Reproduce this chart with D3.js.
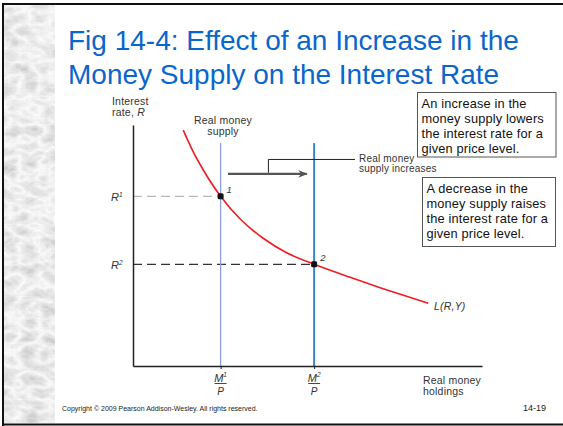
<!DOCTYPE html>
<html>
<head>
<meta charset="utf-8">
<script src="https://cdn.jsdelivr.net/npm/d3@7"></script>
<style>
  body { margin: 0; background: #fff; }
  svg { display: block; font-family: "Liberation Sans", Arial, sans-serif; }
</style>
</head>
<body>
<svg id="slide" width="563" height="426"></svg>
<script>
// demand curve L(R,Y): real money holdings vs interest rate
var demandM = [1.44, 1.83, 2.51, 3.07, 3.73, 4.40, 5.19, 6.22, 7.08, 8.46];
var demandR = [9.79, 8.60, 7.04, 6.10, 5.30, 4.70, 4.22, 3.68, 3.25, 2.60];

// real money supply levels and equilibrium rates
var supplyLevels = [2.51, 5.19];
var supplyTop = 9.25;
var rateLevels = [7.04, 4.22];
var pointLabels = ["1", "2"];
var rateLabels = ["1", "2"];

var titleLines = ["Fig 14-4: Effect of an Increase in the", "Money Supply on the Interest Rate"];
var box1Lines = ["An increase in the", "money supply lowers", "the interest rate for a", "given price level."];
var box2Lines = ["A decrease in the", "money supply raises", "the interest rate for a", "given price level."];

var svg = d3.select("#slide");

// marble strip on the left
var defs = svg.append("defs");
var f = defs.append("filter").attr("id", "marble")
  .attr("x", 0).attr("y", 0).attr("width", 1).attr("height", 1);
f.append("feTurbulence").attr("type", "turbulence")
  .attr("baseFrequency", "0.05 0.08").attr("numOctaves", 4).attr("seed", 7);
f.append("feColorMatrix").attr("type", "matrix")
  .attr("values", "-0.5 0 0 0 0.99  -0.5 0 0 0 0.99  -0.5 0 0 0 0.99  0 0 0 0 1");
svg.append("rect").attr("x", 4).attr("y", 5).attr("width", 51).attr("height", 418)
  .attr("fill", "#ddd").attr("filter", "url(#marble)");

// frame
svg.append("line").attr("x1", 2).attr("x2", 563).attr("y1", 4).attr("y2", 4)
  .attr("stroke", "#111").attr("stroke-width", 2);
svg.append("line").attr("x1", 3).attr("x2", 3).attr("y1", 3).attr("y2", 426)
  .attr("stroke", "#111").attr("stroke-width", 2);
svg.append("line").attr("x1", 2).attr("x2", 563).attr("y1", 424.5).attr("y2", 424.5)
  .attr("stroke", "#111").attr("stroke-width", 2);

// title
svg.append("g").selectAll("text").data(titleLines).enter().append("text")
  .attr("x", 68).attr("y", function(d, i) { return 50 + i * 33.5; })
  .attr("font-size", 28).attr("fill", "#0a66cc")
  .text(function(d) { return d; });

var x = d3.scaleLinear().domain([0, 10]).range([133, 482]);
var y = d3.scaleLinear().domain([0, 10]).range([366, 125]);

var chart = svg.append("g");

// dashed guides to the y axis
chart.selectAll(".guide").data(rateLevels).enter().append("line")
  .attr("class", "guide")
  .attr("x1", x(0)).attr("x2", function(d, i) { return x(supplyLevels[i]); })
  .attr("y1", function(d) { return y(d); }).attr("y2", function(d) { return y(d); })
  .attr("stroke", function(d, i) { return i == 0 ? "#b8b8b8" : "#333"; })
  .attr("stroke-width", 1.2)
  .attr("stroke-dasharray", "9,5");

// supply lines
chart.selectAll(".supply").data(supplyLevels).enter().append("line")
  .attr("class", "supply")
  .attr("x1", function(d) { return x(d); }).attr("x2", function(d) { return x(d); })
  .attr("y1", y(supplyTop)).attr("y2", y(0))
  .attr("stroke", function(d, i) { return i == 0 ? "#8c9fdc" : "#3a83d0"; })
  .attr("stroke-width", function(d, i) { return i == 0 ? 1.3 : 2; });

// axes
chart.append("g").attr("transform", "translate(0," + y(0) + ")")
  .call(d3.axisBottom(x).tickValues(supplyLevels).tickSize(3).tickSizeOuter(0).tickFormat(""))
  .call(function(g) {
    g.select(".domain").attr("stroke", "#222").attr("stroke-width", 1.5);
    g.selectAll(".tick line").attr("stroke", "#222");
  });
chart.append("g").attr("transform", "translate(" + x(0) + ",0)")
  .call(d3.axisLeft(y).tickValues([]).tickSizeOuter(0))
  .call(function(g) {
    g.select(".domain").attr("stroke", "#222").attr("stroke-width", 1.5);
  });

// demand curve
var demand = demandM.map(function(m, i) { return [m, demandR[i]]; });
chart.append("path").datum(demand)
  .attr("fill", "none").attr("stroke", "#ee1d23").attr("stroke-width", 1.6)
  .attr("d", d3.line()
    .x(function(d) { return x(d[0]); })
    .y(function(d) { return y(d[1]); })
    .curve(d3.curveCatmullRom));

// equilibrium points
chart.selectAll(".eq").data(rateLevels).enter().append("rect")
  .attr("class", "eq")
  .attr("x", function(d, i) { return x(supplyLevels[i]) - 3; })
  .attr("y", function(d) { return y(d) - 3; })
  .attr("width", 6).attr("height", 6).attr("rx", 1.5)
  .attr("fill", "#111");
chart.selectAll(".eqlab").data(rateLevels).enter().append("text")
  .attr("x", function(d, i) { return x(supplyLevels[i]) + 6; })
  .attr("y", function(d) { return y(d) - 3; })
  .attr("font-size", 9.5).attr("font-style", "italic").attr("fill", "#333")
  .text(function(d, i) { return pointLabels[i]; });

// R labels on the y axis
var rl = chart.selectAll(".rlab").data(rateLevels).enter().append("text")
  .attr("class", "rlab")
  .attr("x", 111).attr("y", function(d) { return y(d) + 5; })
  .attr("font-size", 11).attr("font-style", "italic").attr("fill", "#333");
rl.append("tspan").text("R");
rl.append("tspan").attr("font-size", 6.5).attr("dy", -4.5)
  .text(function(d, i) { return rateLabels[i]; });

// M/P labels under the x axis
var fr = chart.selectAll(".frac").data(supplyLevels).enter().append("g")
  .attr("transform", function(d) { return "translate(" + x(d) + ",0)"; })
  .attr("fill", "#333");
var num = fr.append("text").attr("x", 0).attr("y", 381.5).attr("text-anchor", "middle")
  .attr("font-size", 11).attr("font-style", "italic");
num.append("tspan").text("M");
num.append("tspan").attr("font-size", 6.5).attr("dy", -4.5)
  .text(function(d, i) { return rateLabels[i]; });
fr.append("line").attr("x1", -6).attr("x2", 6).attr("y1", 383.5).attr("y2", 383.5)
  .attr("stroke", "#333").attr("stroke-width", 0.9);
fr.append("text").attr("x", 0).attr("y", 394.5).attr("text-anchor", "middle")
  .attr("font-size", 10).attr("font-style", "italic").text("P");

// axis titles and other labels
function label(lines, x0, y0, lh, opts) {
  var t = svg.append("text").attr("font-size", opts && opts.size || 10.5)
    .attr("fill", "#333").attr("letter-spacing", 0.2)
    .attr("text-anchor", opts && opts.anchor || "start");
  if (opts && opts.italic) t.attr("font-style", "italic");
  lines.forEach(function(s, i) {
    t.append("tspan").attr("x", x0).attr("y", y0 + i * lh).text(s);
  });
  return t;
}
var yt = label(["Interest", "rate, "], 112, 105, 11);
yt.select("tspan:last-child").append("tspan").attr("font-style", "italic").text("R");
label(["Real money", "supply"], 223, 124, 11, { anchor: "middle" });
label(["Real money", "supply increases"], 359, 162, 10, { size: 10 });
label(["L(R,Y)"], 434, 310, 11, { italic: true });
label(["Real money", "holdings"], 423, 384, 11);

// shift arrow and its callout
defs.append("marker").attr("id", "head").attr("viewBox", "0 0 10 10")
  .attr("refX", 9).attr("refY", 5).attr("markerWidth", 4).attr("markerHeight", 4)
  .attr("orient", "auto")
  .append("path").attr("d", "M0,1 L10,5 L0,9 L3,5 Z").attr("fill", "#555");
svg.append("line")
  .attr("x1", x(2.72)).attr("x2", x(4.98)).attr("y1", y(7.97)).attr("y2", y(7.97))
  .attr("stroke", "#555").attr("stroke-width", 2.4).attr("marker-end", "url(#head)");
svg.append("path")
  .attr("d", "M" + x(3.88) + "," + y(8.02) + "V" + y(8.57) + "H" + 355)
  .attr("fill", "none").attr("stroke", "#222").attr("stroke-width", 1);

// explanation boxes
function box(lines, bx, by, bw, bh) {
  svg.append("rect").attr("x", bx).attr("y", by).attr("width", bw).attr("height", bh)
    .attr("fill", "#fff").attr("stroke", "#555").attr("stroke-width", 1);
  var t = svg.append("text").attr("font-size", 12.8).attr("letter-spacing", 0.15)
    .attr("fill", "#111");
  lines.forEach(function(s, i) {
    t.append("tspan").attr("x", bx + 4).attr("y", by + 15 + i * 15).text(s);
  });
}
box(box1Lines, 417.5, 92.5, 138.5, 64.5);
box(box2Lines, 422.5, 177.5, 133, 69);

// footer
svg.append("text").attr("x", 62).attr("y", 411).attr("font-size", 7).attr("fill", "#222")
  .text("Copyright \u00a9 2009 Pearson Addison-Wesley. All rights reserved.");
svg.append("text").attr("x", 523).attr("y", 411).attr("font-size", 9).attr("fill", "#222")
  .text("14-19");
</script>
</body>
</html>
